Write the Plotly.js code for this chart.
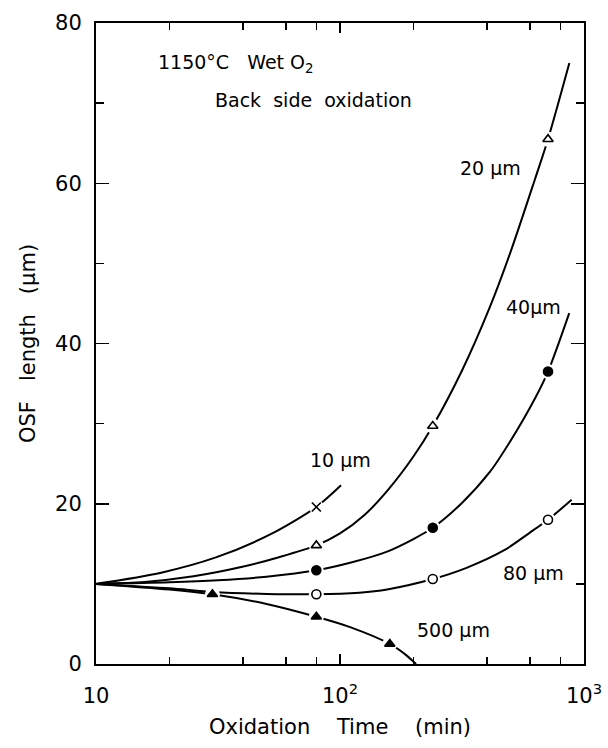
<!DOCTYPE html>
<html>
<head>
<meta charset="utf-8">
<script src="https://cdn.plot.ly/plotly-3.0.1.min.js"></script>
<style>html,body{margin:0;padding:0;background:#fff;}</style>
</head>
<body>
<div id="chart" style="width:608px;height:748px;"></div>
<script>
// Measured points (oxidation time in min, OSF length in µm)
const mk10x = [80];            const mk10y = [19.6];
const mk20x = [80, 240, 712];  const mk20y = [14.8, 29.7, 65.5];
const mk40x = [80, 240, 712];  const mk40y = [11.7, 17.0, 36.5];
const mk80x = [80, 240, 712];  const mk80y = [8.7, 10.6, 18.0];
const mk500x = [30, 80, 160];  const mk500y = [8.7, 5.9, 2.5];

// Fitted curves
const c10x = [10, 18.5, 31, 52, 80, 101];
const c10y = [10, 11.4, 13.3, 16.2, 19.6, 22.3];
const c20x = [10, 15.8, 25.1, 39.8, 56.2, 80, 100, 126, 158, 200, 240, 316, 412, 501, 631, 712, 871];
const c20y = [10, 10.24, 10.95, 12.13, 13.33, 14.8, 16.3, 18.6, 21.8, 25.9, 29.7, 36.6, 44.6, 51.5, 60.6, 65.5, 75.0];
const c40x = [10, 20, 31.6, 50, 80, 112, 155, 200, 240, 316, 412, 501, 631, 712, 870];
const c40y = [10, 10.2, 10.45, 10.9, 11.7, 12.7, 14.0, 15.6, 17.0, 20.1, 24.0, 27.9, 33.2, 36.5, 43.8];
const c80x = [10, 20, 30, 50, 80, 120, 156, 240, 330, 471, 600, 712, 890];
const c80y = [10, 9.45, 9.0, 8.75, 8.7, 8.9, 9.3, 10.6, 12.0, 14.2, 16.4, 18.0, 20.5];
const c500x = [10, 20, 30, 50, 80, 110, 160, 185, 205];
const c500y = [10, 9.3, 8.7, 7.5, 5.9, 4.6, 2.5, 1.2, 0];

const xTickVals = [10, 100, 1000];
const xTickText = ['10', '10<sup>2</sup>', '10<sup>3</sup>'];
const xMinorVals = [20, 40, 60, 80, 200, 400, 600, 800];

const FONT = 'DejaVu Sans, Liberation Sans, sans-serif';

function curve(x, y) {
  return {x: x, y: y, mode: 'lines', type: 'scatter', hoverinfo: 'skip',
    line: {color: '#000', width: 2, shape: 'spline', smoothing: 0.8}, showlegend: false};
}
function gap(x, y) {
  return {x: x, y: y, mode: 'markers', type: 'scatter', hoverinfo: 'skip',
    marker: {symbol: 'circle', size: 15, color: '#fff', line: {width: 0}}, showlegend: false};
}
function pts(x, y, sym, fill) {
  return {x: x, y: y, mode: 'markers', type: 'scatter', showlegend: false,
    marker: {symbol: sym, size: 9, color: fill,
      line: {color: '#000', width: 1.6}}};
}

const data = [
  curve(c10x, c10y), curve(c20x, c20y), curve(c40x, c40y), curve(c80x, c80y), curve(c500x, c500y),
  gap(mk10x, mk10y), gap(mk20x, mk20y), gap(mk40x, mk40y), gap(mk80x, mk80y), gap(mk500x, mk500y),
  pts(mk10x, mk10y, 'x-thin-open', '#000'),
  pts(mk20x, mk20y, 'triangle-up', '#fff'),
  pts(mk40x, mk40y, 'circle', '#000'),
  pts(mk80x, mk80y, 'circle', '#fff'),
  pts(mk500x, mk500y, 'triangle-up', '#000')
];

const nb = '\u00a0';
function ann(x, y, text, anchor) {
  return {x: x, y: y, xref: 'x', yref: 'y', text: text, showarrow: false,
    xanchor: anchor || 'center', yanchor: 'middle', font: {family: FONT, size: 19, color: '#000'}};
}

const layout = {
  width: 608, height: 748,
  margin: {l: 96, r: 24, t: 23, b: 84},
  paper_bgcolor: '#fff', plot_bgcolor: '#fff',
  font: {family: FONT, color: '#000'},
  xaxis: {
    type: 'log', range: [1, 3], showgrid: false, zeroline: false,
    tickmode: 'array', tickvals: xTickVals, ticktext: xTickText,
    ticks: 'inside', ticklen: 10, tickwidth: 1.5, tickcolor: '#000',
    showline: true, linecolor: '#000', linewidth: 2, mirror: 'allticks',
    tickfont: {family: FONT, size: 21, color: '#000'},
    ticklabelstandoff: 12,
    minor: {tickmode: 'array', tickvals: xMinorVals, ticks: 'inside', ticklen: 7, tickwidth: 1.5, tickcolor: '#000', showgrid: false},
    title: {text: 'Oxidation' + nb+nb+nb+nb + 'Time' + nb+nb+nb+nb + '(min)', font: {family: FONT, size: 21, color: '#000'}, standoff: 12},
    automargin: false
  },
  yaxis: {
    range: [0, 80], showgrid: false, zeroline: false,
    tickmode: 'linear', tick0: 0, dtick: 20,
    ticks: 'inside', ticklen: 13, tickwidth: 1.5, tickcolor: '#000',
    showline: true, linecolor: '#000', linewidth: 2, mirror: 'allticks',
    tickfont: {family: FONT, size: 21, color: '#000'},
    ticklabelstandoff: 8,
    minor: {dtick: 10, tick0: 0, ticks: 'inside', ticklen: 8, tickwidth: 1.5, tickcolor: '#000', showgrid: false},
    title: {text: 'OSF' + nb+nb+nb + 'length' + nb+nb+nb + '(\u03bcm)', font: {family: FONT, size: 21, color: '#000'}, standoff: 14},
    automargin: false
  },
  annotations: [
    ann(1.246, 75.0, '1150\u00b0C' + nb+nb+nb + 'Wet' + nb + 'O<sub>2</sub>', 'left'),
    ann(1.48, 70.4, 'Back' + nb+nb + 'side' + nb+nb + 'oxidation', 'left'),
    ann(2.615, 61.9, '20' + nb + '\u03bcm'),
    ann(2.795, 44.6, '40\u03bcm'),
    ann(2.0, 25.5, '10' + nb + '\u03bcm'),
    ann(2.795, 11.4, '80' + nb + '\u03bcm'),
    ann(2.467, 4.2, '500' + nb + '\u03bcm')
  ]
};

Plotly.newPlot('chart', data, layout, {displayModeBar: false, staticPlot: true});
</script>
</body>
</html>
